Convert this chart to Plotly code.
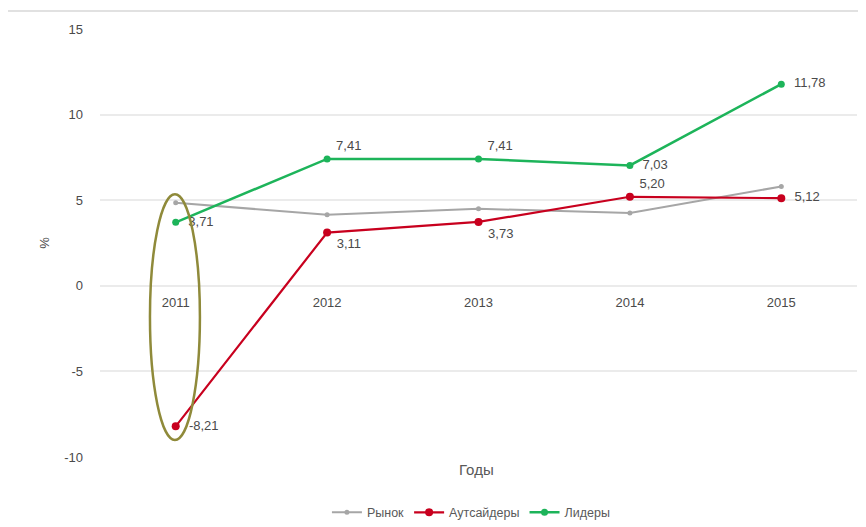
import plotly.graph_objects as go

years = ["2011", "2012", "2013", "2014", "2015"]
market = [4.85, 4.15, 4.5, 4.25, 5.8]
outsiders = [-8.21, 3.11, 3.73, 5.20, 5.12]
leaders = [3.71, 7.41, 7.41, 7.03, 11.78]
y_ticks = [-10, -5, 0, 5, 10, 15]

outsider_pos = ["middle right", "bottom right", "bottom right", "top right", "middle right"]
leader_pos = ["middle right", "top right", "top right", "middle right", "middle right"]

def fmt(v, pos):
    s = f"{v:.2f}".replace(".", ",")
    return ("  " + s) if pos.startswith("middle") else (" " + s)

font_family = "Liberation Sans, Arial, sans-serif"
text_color = "#4a4a4a"

fig = go.Figure()
fig.add_trace(go.Scatter(
    x=years, y=market, name="Рынок", mode="lines+markers",
    line=dict(color="#a6a6a6", width=2),
    marker=dict(color="#a6a6a6", size=5),
))
fig.add_trace(go.Scatter(
    x=years, y=outsiders, name="Аутсайдеры", mode="lines+markers+text",
    line=dict(color="#c8001e", width=2.2),
    marker=dict(color="#c8001e", size=8),
    text=[fmt(v, p) for v, p in zip(outsiders, outsider_pos)], textposition=outsider_pos,
    textfont=dict(size=13, color=text_color, family=font_family),
))
fig.add_trace(go.Scatter(
    x=years, y=leaders, name="Лидеры", mode="lines+markers+text",
    line=dict(color="#1db45a", width=2.5),
    marker=dict(color="#1db45a", size=7),
    text=[fmt(v, p) for v, p in zip(leaders, leader_pos)], textposition=leader_pos,
    textfont=dict(size=13, color=text_color, family=font_family),
))

# highlight ellipse around 2011
fig.add_shape(type="circle", xref="x", yref="y",
              x0=-0.17, x1=0.16, y0=-9.0, y1=5.35,
              line=dict(color="#8f8a3a", width=2.5), layer="above")

# outer light frame
fig.add_shape(type="rect", xref="paper", yref="paper",
              x0=-0.124, x1=1.2, y0=-0.3, y1=1.042,
              line=dict(color="#d8d8d8", width=1.5), layer="below")

fig.add_annotation(text="Годы", xref="paper", yref="paper", x=0.497, y=-0.005,
                   yanchor="top", showarrow=False,
                   font=dict(size=15, color="#595959", family=font_family))

fig.update_layout(
    width=866, height=527,
    margin=dict(l=92, r=17, t=21, b=78, autoexpand=False),
    plot_bgcolor="white", paper_bgcolor="white",
    font=dict(family=font_family, size=13, color=text_color),
    showlegend=True,
    legend=dict(orientation="h", x=0.49, xanchor="center", y=-0.095, yanchor="top",
                font=dict(size=12.5, color="#595959")),
    xaxis=dict(type="category", range=[-0.5, 4.5], showgrid=False, showline=False,
               zeroline=False, ticks="", anchor="free", position=0.4,
               ticklabelstandoff=7,
               tickfont=dict(size=13, color=text_color)),
    yaxis=dict(range=[-10, 15], tickvals=y_ticks, ticktext=[str(t) for t in y_ticks],
               showgrid=True, gridcolor="#ebebeb",
               gridwidth=1.5, zeroline=False, showline=False, ticks="",
               ticklabelstandoff=16,
               title=dict(text="%", standoff=11, font=dict(size=13, color=text_color))),
)

fig.write_html("out.html")
